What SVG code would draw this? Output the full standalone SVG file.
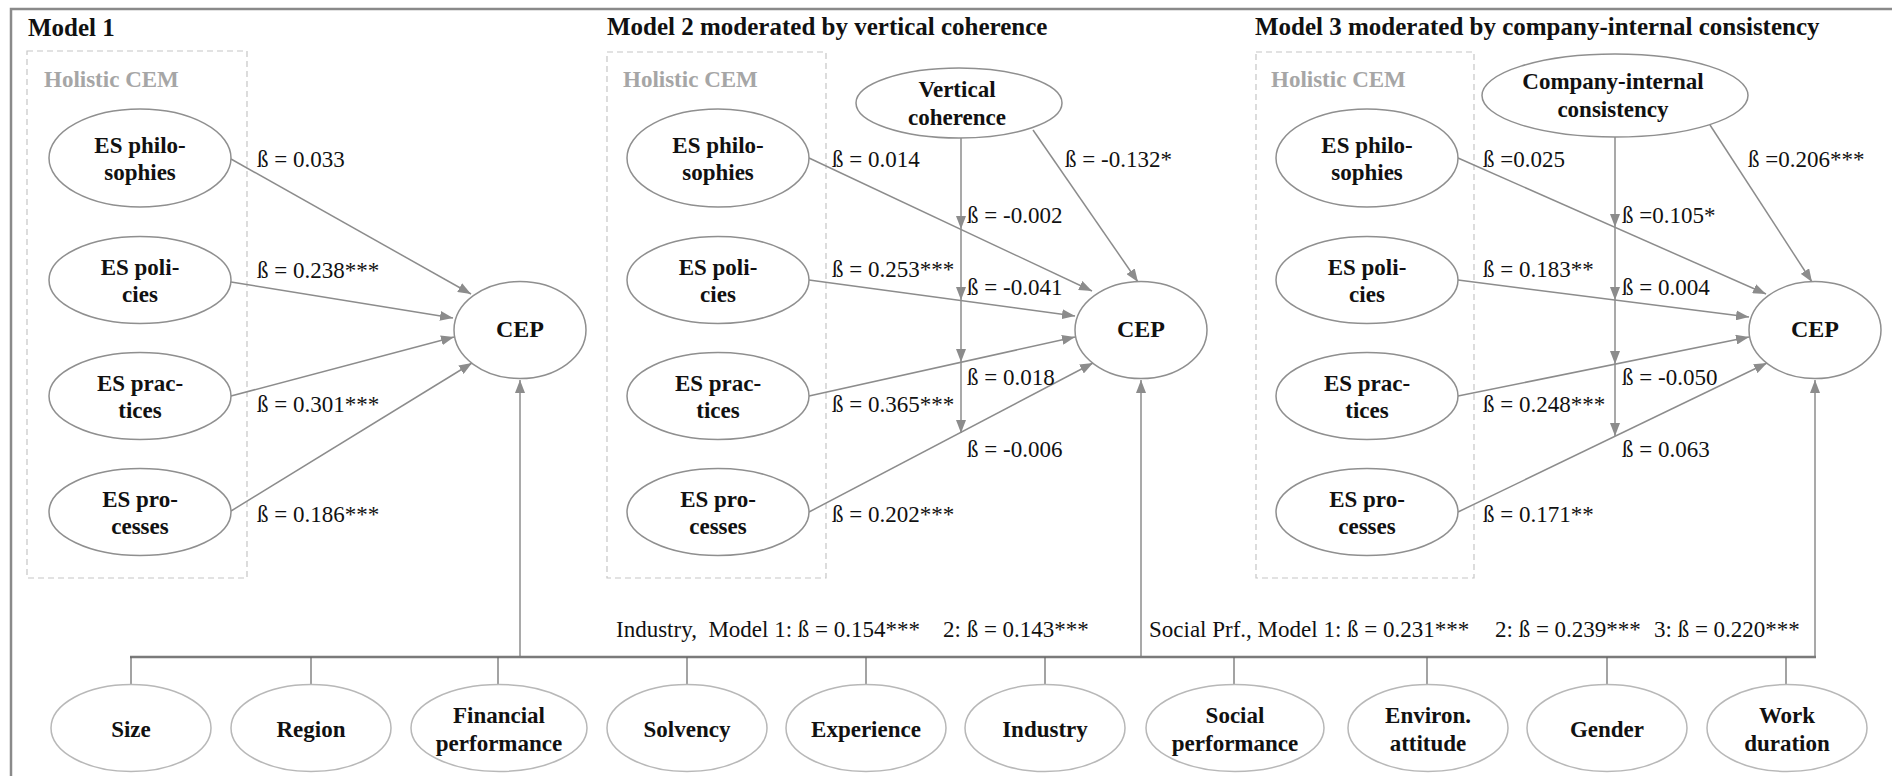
<svg xmlns="http://www.w3.org/2000/svg" width="1892" height="776" viewBox="0 0 1892 776">
  <defs>
    <marker id="arr" viewBox="0 0 13 10" refX="13" refY="5" markerWidth="13" markerHeight="10" markerUnits="userSpaceOnUse" orient="auto">
      <path d="M0,0 L13,5 L0,10 z" fill="#8c8c8c"/>
    </marker>
    <style>
      text { font-family: "Liberation Serif", "Times New Roman", serif; fill: #111; }
      .title { font-size: 25px; font-weight: bold; }
      .group-label { font-size: 23px; font-weight: bold; fill: #a6a6a6; }
      .node { font-size: 23px; font-weight: bold; text-anchor: middle; }
      .cep { font-size: 24px; font-weight: bold; text-anchor: middle; }
      .beta { font-size: 23px; white-space: pre; }
      .frame { fill: none; stroke: #8a8a8a; stroke-width: 2.5; }
      .group-box { fill: none; stroke: #c6c6c6; stroke-width: 1.2; stroke-dasharray: 6 4; }
      .construct { fill: #fff; stroke: #8f8f8f; stroke-width: 1.5; }
      .control { fill: #fff; stroke: #b8b8b8; stroke-width: 1.5; }
      .edge { fill: none; stroke: #8c8c8c; stroke-width: 1.5; marker-end: url(#arr); }
      .bus { fill: none; stroke: #7a7a7a; stroke-width: 2.5; }
      .drop { fill: none; stroke: #666; stroke-width: 1.2; }
    </style>
  </defs>

  <rect width="1892" height="776" fill="#fff"/>
  <!-- outer frame (right and bottom edges run past the canvas) -->
  <rect class="frame" x="11" y="9" width="1900" height="800"/>

  <!-- panel titles -->
  <text class="title" x="28" y="36">Model 1</text>
  <text class="title" x="607" y="35">Model 2 moderated by vertical coherence</text>
  <text class="title" x="1255" y="35">Model 3 moderated by company-internal consistency</text>

  <!-- holistic CEM groupings -->
  <g id="cem-1">
    <rect class="group-box" x="27" y="51" width="220" height="527"/>
    <text class="group-label" x="44" y="87">Holistic CEM</text>
  </g>
  <g id="cem-2">
    <rect class="group-box" x="607" y="52" width="219" height="526"/>
    <text class="group-label" x="623" y="87">Holistic CEM</text>
  </g>
  <g id="cem-3">
    <rect class="group-box" x="1256" y="52" width="218" height="526"/>
    <text class="group-label" x="1271" y="87">Holistic CEM</text>
  </g>

  <!-- connectors -->
  <g id="connectors">
    <!-- model 1 -->
    <line class="edge" x1="231" y1="159" x2="471" y2="294"/>
    <line class="edge" x1="231" y1="282" x2="453" y2="318"/>
    <line class="edge" x1="231" y1="396" x2="454" y2="337"/>
    <line class="edge" x1="231" y1="511" x2="472" y2="363"/>
    <line class="edge" x1="520" y1="657" x2="520" y2="380"/>
    <!-- model 2 -->
    <line class="edge" x1="809" y1="158" x2="1092" y2="291"/>
    <line class="edge" x1="809" y1="280" x2="1075" y2="316"/>
    <line class="edge" x1="809" y1="396" x2="1075" y2="337"/>
    <line class="edge" x1="809" y1="512" x2="1093" y2="363"/>
    <line class="edge" x1="1033" y1="130" x2="1138" y2="282"/>
    <line class="edge" x1="961" y1="138" x2="961" y2="229"/>
    <line class="edge" x1="961" y1="229" x2="961" y2="300"/>
    <line class="edge" x1="961" y1="300" x2="961" y2="362"/>
    <line class="edge" x1="961" y1="362" x2="961" y2="433"/>
    <line class="edge" x1="1141" y1="657" x2="1141" y2="380"/>
    <!-- model 3 -->
    <line class="edge" x1="1458" y1="158" x2="1766" y2="294"/>
    <line class="edge" x1="1458" y1="280" x2="1749" y2="317"/>
    <line class="edge" x1="1458" y1="396" x2="1749" y2="337"/>
    <line class="edge" x1="1458" y1="512" x2="1767" y2="363"/>
    <line class="edge" x1="1710" y1="125" x2="1812" y2="282"/>
    <line class="edge" x1="1615" y1="137" x2="1615" y2="227"/>
    <line class="edge" x1="1615" y1="227" x2="1615" y2="300"/>
    <line class="edge" x1="1615" y1="300" x2="1615" y2="364"/>
    <line class="edge" x1="1615" y1="364" x2="1615" y2="436"/>
    <line class="edge" x1="1815" y1="657" x2="1815" y2="380"/>
    <!-- control variable bus -->
    <line class="bus" x1="130" y1="657" x2="1816" y2="657"/>
    <line class="drop" x1="131" y1="657" x2="131" y2="685"/>
    <line class="drop" x1="311" y1="657" x2="311" y2="685"/>
    <line class="drop" x1="498" y1="657" x2="498" y2="685"/>
    <line class="drop" x1="687" y1="657" x2="687" y2="685"/>
    <line class="drop" x1="866" y1="657" x2="866" y2="685"/>
    <line class="drop" x1="1045" y1="657" x2="1045" y2="685"/>
    <line class="drop" x1="1234" y1="657" x2="1234" y2="685"/>
    <line class="drop" x1="1427" y1="657" x2="1427" y2="685"/>
    <line class="drop" x1="1607" y1="657" x2="1607" y2="685"/>
    <line class="drop" x1="1786" y1="657" x2="1786" y2="685"/>
  </g>

  <!-- path coefficients -->
  <g id="coefficients-1">
    <text class="beta" x="257" y="167">ß = 0.033</text>
    <text class="beta" x="257" y="278">ß = 0.238***</text>
    <text class="beta" x="257" y="412">ß = 0.301***</text>
    <text class="beta" x="257" y="522">ß = 0.186***</text>
  </g>
  <g id="coefficients-2">
    <text class="beta" x="832" y="167">ß = 0.014</text>
    <text class="beta" x="1065" y="167">ß = -0.132*</text>
    <text class="beta" x="967" y="223">ß = -0.002</text>
    <text class="beta" x="832" y="277">ß = 0.253***</text>
    <text class="beta" x="967" y="295">ß = -0.041</text>
    <text class="beta" x="967" y="385">ß = 0.018</text>
    <text class="beta" x="832" y="412">ß = 0.365***</text>
    <text class="beta" x="967" y="457">ß = -0.006</text>
    <text class="beta" x="832" y="522">ß = 0.202***</text>
  </g>
  <g id="coefficients-3">
    <text class="beta" x="1483" y="167">ß =0.025</text>
    <text class="beta" x="1748" y="167">ß =0.206***</text>
    <text class="beta" x="1622" y="223">ß =0.105*</text>
    <text class="beta" x="1483" y="277">ß = 0.183**</text>
    <text class="beta" x="1622" y="295">ß = 0.004</text>
    <text class="beta" x="1622" y="385">ß = -0.050</text>
    <text class="beta" x="1483" y="412">ß = 0.248***</text>
    <text class="beta" x="1622" y="457">ß = 0.063</text>
    <text class="beta" x="1483" y="522">ß = 0.171**</text>
  </g>
  <g id="coefficients-controls">
    <text class="beta" x="616" y="637">Industry,  Model 1: ß = 0.154***</text>
    <text class="beta" x="943" y="637">2: ß = 0.143***</text>
    <text class="beta" x="1149" y="637">Social Prf., Model 1: ß = 0.231***</text>
    <text class="beta" x="1495" y="637">2: ß = 0.239***</text>
    <text class="beta" x="1654" y="637">3: ß = 0.220***</text>
  </g>

  <!-- model 1 constructs -->
  <g id="m1-philosophies">
    <ellipse class="construct" cx="140" cy="158" rx="91" ry="49"/>
    <text class="node" x="140" y="153">ES philo-</text>
    <text class="node" x="140" y="180">sophies</text>
  </g>
  <g id="m1-policies">
    <ellipse class="construct" cx="140" cy="280" rx="91" ry="43.5"/>
    <text class="node" x="140" y="275">ES poli-</text>
    <text class="node" x="140" y="302">cies</text>
  </g>
  <g id="m1-practices">
    <ellipse class="construct" cx="140" cy="396" rx="91" ry="43.5"/>
    <text class="node" x="140" y="391">ES prac-</text>
    <text class="node" x="140" y="418">tices</text>
  </g>
  <g id="m1-processes">
    <ellipse class="construct" cx="140" cy="512" rx="91" ry="43.5"/>
    <text class="node" x="140" y="507">ES pro-</text>
    <text class="node" x="140" y="534">cesses</text>
  </g>
  <g id="m1-cep">
    <ellipse class="construct" cx="520" cy="330" rx="66" ry="48.5"/>
    <text class="cep" x="520" y="337">CEP</text>
  </g>

  <!-- model 2 constructs -->
  <g id="m2-philosophies">
    <ellipse class="construct" cx="718" cy="158" rx="91" ry="49"/>
    <text class="node" x="718" y="153">ES philo-</text>
    <text class="node" x="718" y="180">sophies</text>
  </g>
  <g id="m2-policies">
    <ellipse class="construct" cx="718" cy="280" rx="91" ry="43.5"/>
    <text class="node" x="718" y="275">ES poli-</text>
    <text class="node" x="718" y="302">cies</text>
  </g>
  <g id="m2-practices">
    <ellipse class="construct" cx="718" cy="396" rx="91" ry="43.5"/>
    <text class="node" x="718" y="391">ES prac-</text>
    <text class="node" x="718" y="418">tices</text>
  </g>
  <g id="m2-processes">
    <ellipse class="construct" cx="718" cy="512" rx="91" ry="43.5"/>
    <text class="node" x="718" y="507">ES pro-</text>
    <text class="node" x="718" y="534">cesses</text>
  </g>
  <g id="m2-vertical-coherence">
    <ellipse class="construct" cx="959" cy="103" rx="103" ry="35"/>
    <text class="node" x="957" y="97">Vertical</text>
    <text class="node" x="957" y="125">coherence</text>
  </g>
  <g id="m2-cep">
    <ellipse class="construct" cx="1141" cy="330" rx="66" ry="48.5"/>
    <text class="cep" x="1141" y="337">CEP</text>
  </g>

  <!-- model 3 constructs -->
  <g id="m3-philosophies">
    <ellipse class="construct" cx="1367" cy="158" rx="91" ry="49"/>
    <text class="node" x="1367" y="153">ES philo-</text>
    <text class="node" x="1367" y="180">sophies</text>
  </g>
  <g id="m3-policies">
    <ellipse class="construct" cx="1367" cy="280" rx="91" ry="43.5"/>
    <text class="node" x="1367" y="275">ES poli-</text>
    <text class="node" x="1367" y="302">cies</text>
  </g>
  <g id="m3-practices">
    <ellipse class="construct" cx="1367" cy="396" rx="91" ry="43.5"/>
    <text class="node" x="1367" y="391">ES prac-</text>
    <text class="node" x="1367" y="418">tices</text>
  </g>
  <g id="m3-processes">
    <ellipse class="construct" cx="1367" cy="512" rx="91" ry="43.5"/>
    <text class="node" x="1367" y="507">ES pro-</text>
    <text class="node" x="1367" y="534">cesses</text>
  </g>
  <g id="m3-internal-consistency">
    <ellipse class="construct" cx="1615" cy="95.5" rx="133" ry="41.5"/>
    <text class="node" x="1613" y="89">Company-internal</text>
    <text class="node" x="1613" y="117">consistency</text>
  </g>
  <g id="m3-cep">
    <ellipse class="construct" cx="1815" cy="330" rx="66" ry="48.5"/>
    <text class="cep" x="1815" y="337">CEP</text>
  </g>

  <!-- control variables -->
  <g id="ctrl-size">
    <ellipse class="control" cx="131" cy="728" rx="80" ry="43.5"/>
    <text class="node" x="131" y="737">Size</text>
  </g>
  <g id="ctrl-region">
    <ellipse class="control" cx="311" cy="728" rx="80" ry="43.5"/>
    <text class="node" x="311" y="737">Region</text>
  </g>
  <g id="ctrl-financial">
    <ellipse class="control" cx="499" cy="728" rx="88" ry="43.5"/>
    <text class="node" x="499" y="723">Financial</text>
    <text class="node" x="499" y="751">performance</text>
  </g>
  <g id="ctrl-solvency">
    <ellipse class="control" cx="687" cy="728" rx="80" ry="43.5"/>
    <text class="node" x="687" y="737">Solvency</text>
  </g>
  <g id="ctrl-experience">
    <ellipse class="control" cx="866" cy="728" rx="80" ry="43.5"/>
    <text class="node" x="866" y="737">Experience</text>
  </g>
  <g id="ctrl-industry">
    <ellipse class="control" cx="1045" cy="728" rx="80" ry="43.5"/>
    <text class="node" x="1045" y="737">Industry</text>
  </g>
  <g id="ctrl-social">
    <ellipse class="control" cx="1235" cy="728" rx="89" ry="43.5"/>
    <text class="node" x="1235" y="723">Social</text>
    <text class="node" x="1235" y="751">performance</text>
  </g>
  <g id="ctrl-environ">
    <ellipse class="control" cx="1428" cy="728" rx="80" ry="43.5"/>
    <text class="node" x="1428" y="723">Environ.</text>
    <text class="node" x="1428" y="751">attitude</text>
  </g>
  <g id="ctrl-gender">
    <ellipse class="control" cx="1607" cy="728" rx="80" ry="43.5"/>
    <text class="node" x="1607" y="737">Gender</text>
  </g>
  <g id="ctrl-work">
    <ellipse class="control" cx="1787" cy="728" rx="80" ry="43.5"/>
    <text class="node" x="1787" y="723">Work</text>
    <text class="node" x="1787" y="751">duration</text>
  </g>
</svg>
